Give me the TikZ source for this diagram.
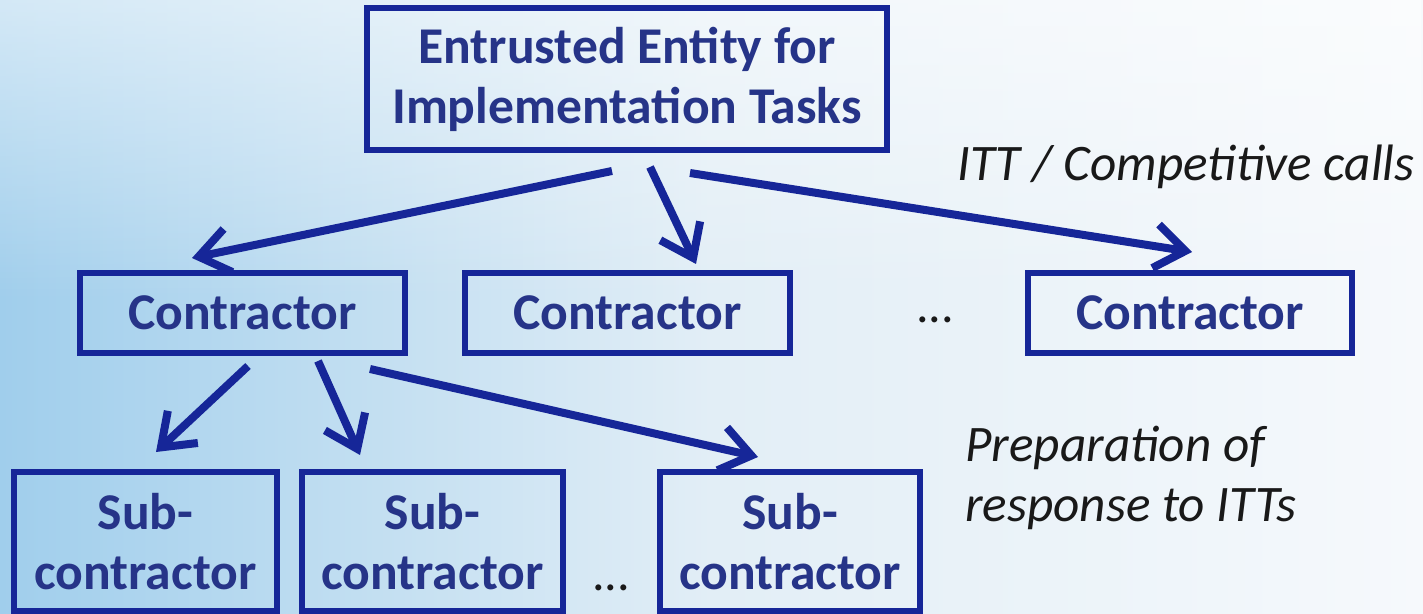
\documentclass[tikz,border=0pt]{standalone}
\usepackage{fontspec}
\setmainfont{Carlito}
\usetikzlibrary{arrows.meta,fadings}
\definecolor{boxline}{RGB}{22,38,152}
\definecolor{boxtext}{RGB}{38,52,136}
\definecolor{skyA}{RGB}{160,206,236}
\definecolor{skyB}{RGB}{226,238,246}
\definecolor{skyC}{RGB}{246,249,252}
\definecolor{labeltext}{RGB}{25,25,25}
\tikzset{
  entbox/.style={draw=boxline, line width=3pt, inner sep=0pt, text=boxtext,
    font=\fontsize{25.8}{30}\selectfont\bfseries, align=center},
  conbox/.style={entbox, minimum height=40pt},
  subbox/.style={entbox, minimum height=69.5pt},
  link/.style={draw=boxline, line width=4pt, -{Straight Barb[length=15pt,width=22pt]}},
  lbl/.style={text=labeltext, font=\fontsize{25.6}{30}\selectfont\itshape, inner sep=0pt},
  dots/.style={text=labeltext, font=\fontsize{25}{30}\selectfont, inner sep=0pt}
}
\begin{document}
\begin{tikzpicture}[x=0.5pt,y=-0.5pt]
\useasboundingbox (0,0) rectangle (1423,614);
\shade[left color=skyA, right color=skyC, middle color=skyB] (0,0) rectangle (1423,614);
\fill[white, opacity=0.55, path fading=south] (0,0) rectangle (1423,300);

\node[entbox, minimum width=260pt, minimum height=71pt] (top) at (627,79)
  {Entrusted Entity for\\Implementation Tasks};

\node[conbox, minimum width=162.5pt] (c1) at (242.5,313) {Contractor};
\node[conbox, minimum width=162.5pt] (c2) at (627.5,313) {Contractor};
\node[conbox, minimum width=162pt] (c3) at (1190,313) {Contractor};
\node[dots] (cdots) at (935,320) {...};

\node[subbox, minimum width=131.5pt] (s1) at (145.5,541.5) {Sub-\\contractor};
\node[subbox, minimum width=130.5pt] (s2) at (432.5,541.5) {Sub-\\contractor};
\node[subbox, minimum width=130pt] (s3) at (790,541.5) {Sub-\\contractor};
\node[dots] (sdots) at (611,588) {...};

\node[lbl, anchor=base west] (itt) at (957,181) {ITT / Competitive calls};
\node[lbl, anchor=base west, align=left] (prep) at (965,521)
  {Preparation of\\response to ITTs};

% arrow end points
\coordinate (a1s) at (612,171);
\coordinate (a1e) at (192,258);
\coordinate (a2s) at (650,167);
\coordinate (a2e) at (696,264);
\coordinate (a3s) at (690,173);
\coordinate (a3e) at (1192,252);
\coordinate (b1s) at (248,366);
\coordinate (b1e) at (156,452);
\coordinate (b2s) at (318,361);
\coordinate (b2e) at (360,455);
\coordinate (b3s) at (370,369);
\coordinate (b3e) at (758,457);

\draw[link] (a1s) -- (a1e);
\draw[link] (a2s) -- (a2e);
\draw[link] (a3s) -- (a3e);
\draw[link] (b1s) -- (b1e);
\draw[link] (b2s) -- (b2e);
\draw[link] (b3s) -- (b3e);
\end{tikzpicture}
\end{document}
